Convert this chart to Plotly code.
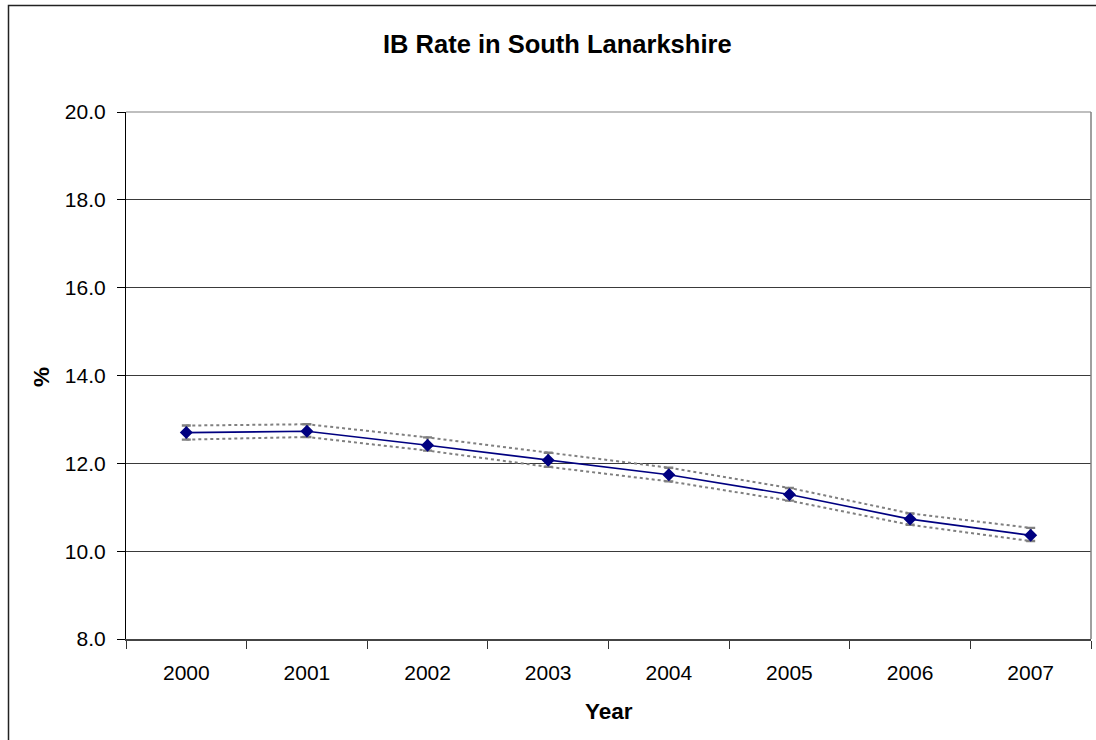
import plotly.graph_objects as go

# IB claimant rate, South Lanarkshire, with confidence limits
years = ["2000", "2001", "2002", "2003", "2004", "2005", "2006", "2007"]
rate = [12.70, 12.73, 12.41, 12.07, 11.74, 11.29, 10.73, 10.36]
upper = [12.86, 12.89, 12.59, 12.24, 11.90, 11.44, 10.86, 10.53]
lower = [12.54, 12.60, 12.29, 11.92, 11.59, 11.15, 10.60, 10.23]
y_ticks = [8, 10, 12, 14, 16, 18, 20]

err_plus = [u - r for u, r in zip(upper, rate)]
err_minus = [r - l for r, l in zip(rate, lower)]

W, H = 1096, 740
ML, MR, MT, MB = 126, 5, 112, 101
PW, PH = W - ML - MR, H - MT - MB

def px_x(x):
    return (x - ML) / PW

def px_y(y):
    return (H - MB - y) / PH

FONT = "Liberation Sans, Arial, sans-serif"
GREY = "#808080"

fig = go.Figure()

# confidence limits as dotted lines
fig.add_trace(go.Scatter(x=years, y=upper, mode="lines",
                         line=dict(color=GREY, width=2, dash="dot"),
                         hoverinfo="skip", showlegend=False))
fig.add_trace(go.Scatter(x=years, y=lower, mode="lines",
                         line=dict(color=GREY, width=2, dash="dot"),
                         hoverinfo="skip", showlegend=False))

# main series with error caps
fig.add_trace(go.Scatter(
    x=years, y=rate, mode="lines+markers",
    line=dict(color="#000080", width=1.6),
    marker=dict(symbol="diamond", size=10, color="#000080"),
    error_y=dict(type="data", array=err_plus, arrayminus=err_minus,
                 color=GREY, thickness=2.4, width=4.5, visible=True),
    showlegend=False))

fig.update_layout(
    width=W, height=H,
    margin=dict(l=ML, r=MR, t=MT, b=MB),
    paper_bgcolor="white", plot_bgcolor="white",
    font=dict(family=FONT, size=21, color="black"),
    xaxis=dict(type="category", range=[-0.5, 7.5], tickson="boundaries",
               ticks="outside", ticklen=8, tickcolor="#333", tickwidth=1,
               ticklabelstandoff=14,
               showgrid=False, showline=True, linecolor="#444", linewidth=1.5,
               zeroline=False, tickfont=dict(size=21)),
    yaxis=dict(range=[8, 20], tickvals=y_ticks, tickformat=".1f",
               ticks="outside", ticklen=8, tickcolor="black", tickwidth=1,
               ticklabelstandoff=7,
               showgrid=True, gridcolor="#3a3a3a", gridwidth=1,
               showline=True, linecolor="black", linewidth=1.2,
               zeroline=False, tickfont=dict(size=21)),
    shapes=[
        # plot area edges (top, right)
        dict(type="line", xref="paper", yref="paper", x0=0, x1=1, y0=1, y1=1,
             line=dict(color=GREY, width=1.2), layer="below"),
        dict(type="line", xref="paper", yref="paper", x0=1, x1=1, y0=0, y1=1,
             line=dict(color=GREY, width=1.5)),
        # chart frame
        dict(type="rect", xref="paper", yref="paper",
             x0=px_x(8.5), x1=px_x(1110), y0=px_y(760), y1=px_y(5.5),
             line=dict(color="#222", width=1.5)),
    ],
    annotations=[
        dict(text="<b>IB Rate in South Lanarkshire</b>", xref="paper", yref="paper",
             x=px_x(557), y=px_y(44), showarrow=False, xanchor="center",
             yanchor="middle", font=dict(size=25.5)),
        dict(text="<b>Year</b>", xref="paper", yref="paper",
             x=px_x(609), y=px_y(711), showarrow=False, xanchor="center",
             yanchor="middle", font=dict(size=22.5)),
        dict(text="<b>%</b>", xref="paper", yref="paper",
             x=px_x(41), y=px_y(377), showarrow=False, xanchor="center",
             yanchor="middle", textangle=-90, font=dict(size=22.5)),
    ],
)

fig.write_html("out.html")
